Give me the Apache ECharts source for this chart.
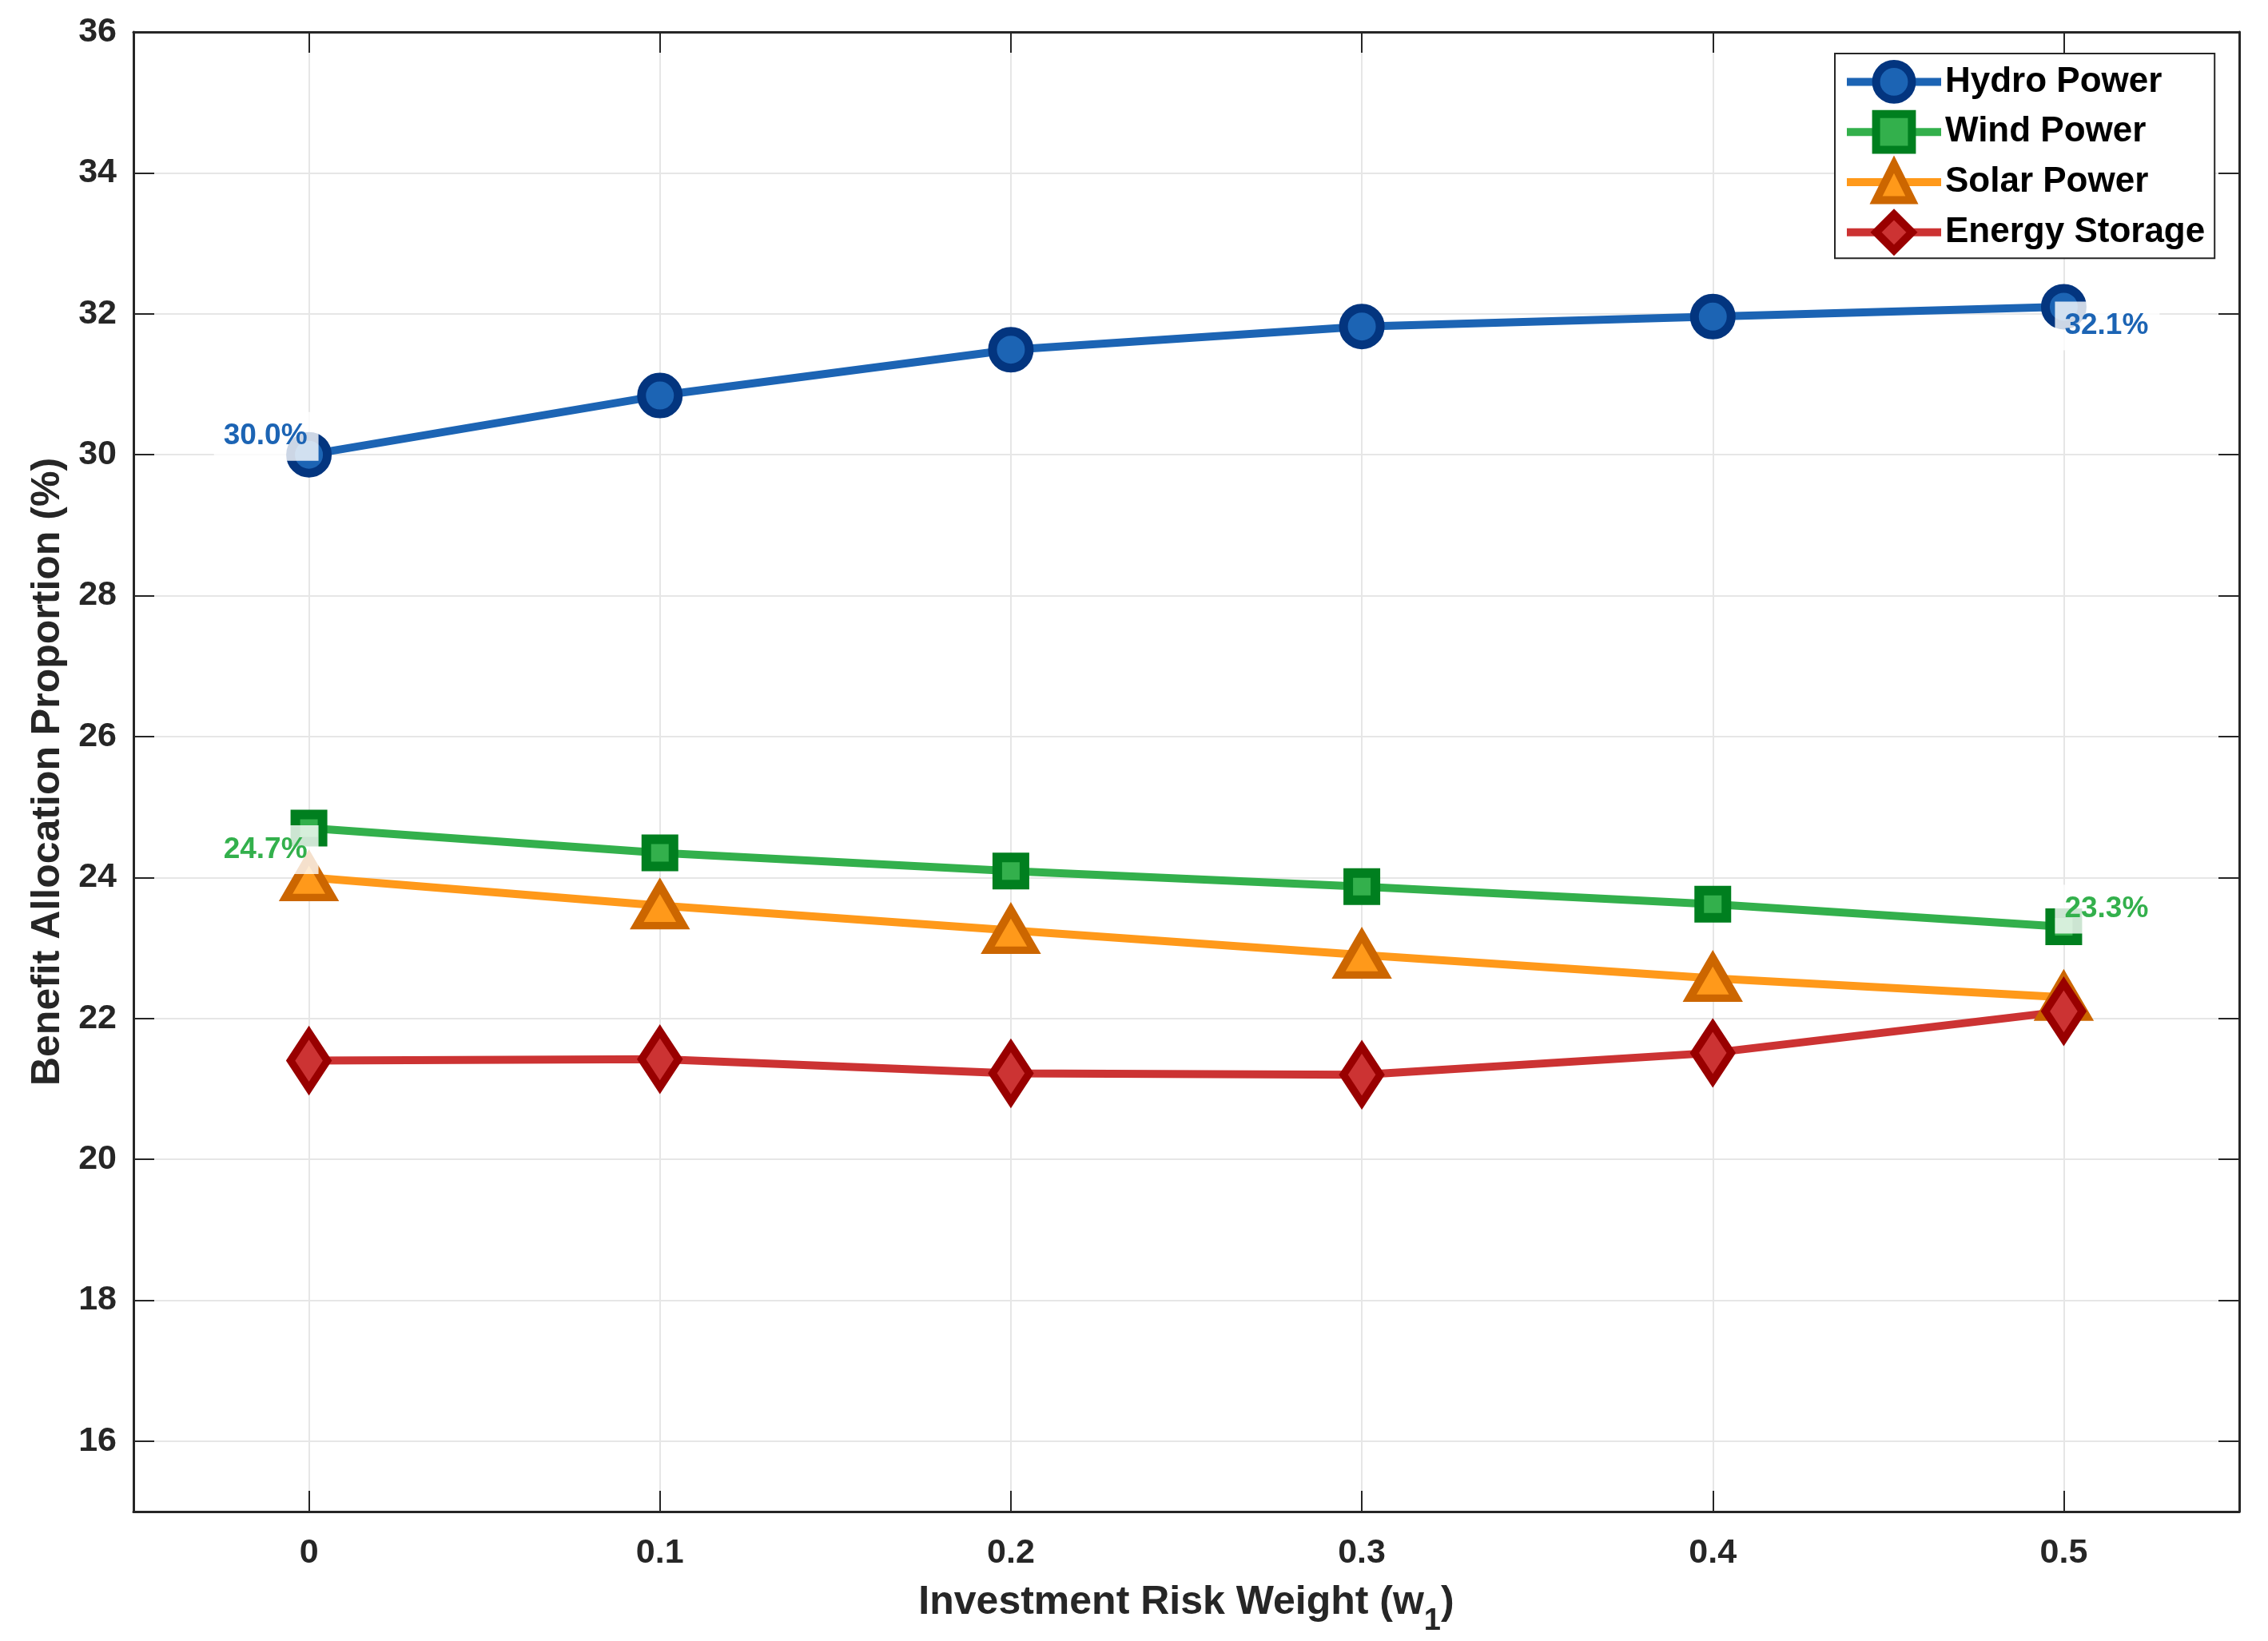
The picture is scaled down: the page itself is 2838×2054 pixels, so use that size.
<!DOCTYPE html>
<html><head><meta charset="utf-8">
<script src="https://cdn.jsdelivr.net/npm/echarts@6/dist/echarts.min.js"></script>
<style>html,body{margin:0;padding:0;background:#fff}#c{width:2838px;height:2054px}</style>
</head><body><div id="c"></div>
<script>
const riskWeights = [0, 0.1, 0.2, 0.3, 0.4, 0.5];
const hydro = [30.0, 30.84, 31.49, 31.82, 31.96, 32.1];
const wind = [24.7, 24.35, 24.09, 23.87, 23.62, 23.3];
const solar = [24.0, 23.6, 23.25, 22.9, 22.57, 22.3];
const storage = [21.4, 21.42, 21.22, 21.2, 21.51, 22.1];
const xTicks = [0, 0.1, 0.2, 0.3, 0.4, 0.5];
const yTicks = [16, 18, 20, 22, 24, 26, 28, 30, 32, 34, 36];
const seriesNames = ['Hydro Power', 'Wind Power', 'Solar Power', 'Energy Storage'];

const FONT = 'Arial, "Liberation Sans", Helvetica, sans-serif';
const AX = '#262626';

function labelCfg(text, color, side, dy) {
  return {
    show: true, formatter: text, position: 'inside',
    align: side, verticalAlign: 'middle',
    offset: [side === 'right' ? 12 : -11, dy],
    color: color, fontFamily: FONT, fontWeight: 'bold', fontSize: 37,
    backgroundColor: 'rgba(255,255,255,0.8)', padding: [12, 14, 12, 12]
  };
}
function build(values, labels) {
  return riskWeights.map((x, i) => labels[i] ? { value: [x, values[i]], label: labels[i] } : [x, values[i]]);
}

const hydroLabels = {0: labelCfg(hydro[0].toFixed(1) + '%', '#1c64b4', 'right', -23), 5: labelCfg(hydro[5].toFixed(1) + '%', '#1c64b4', 'left', 24)};
const windLabels = {0: labelCfg(wind[0].toFixed(1) + '%', '#33b04c', 'right', 27), 5: labelCfg(wind[5].toFixed(1) + '%', '#33b04c', 'left', -22)};

function lineSeries(name, values, labels, symbol, size, lineColor, edge, bw) {
  return {
    name, type: 'line', data: build(values, labels || {}),
    xAxisIndex: 0, yAxisIndex: 0,
    symbol, symbolSize: size, showAllSymbol: true,
    lineStyle: { width: 10, color: lineColor },
    itemStyle: { color: lineColor, borderColor: edge, borderWidth: bw },
    emphasis: { disabled: true },
    label: { show: false }
  };
}

const axisTxt = { fontFamily: FONT, fontWeight: 'bold', fontSize: 43, color: AX };

const option = {
  animation: false,
  backgroundColor: '#fff',
  grid: { left: 167, top: 40, right: 36, bottom: 162, containLabel: false },
  legend: {
    orient: 'vertical', left: 2296, top: 67,
    data: seriesNames,
    itemWidth: 118, itemHeight: 56, itemGap: 8,
    padding: [8, 12, 5, 10],
    backgroundColor: '#fff', borderColor: AX, borderWidth: 2, borderRadius: 0,
    selectedMode: false,
    lineStyle: { width: 10 },
    itemStyle: { borderWidth: 10 },
    textStyle: { fontFamily: FONT, fontWeight: 'bold', fontSize: 44, color: '#000' }
  },
  xAxis: [{
    type: 'value', min: -0.05, max: 0.55, position: 'bottom',
    axisLine: { show: true, onZero: false, lineStyle: { color: AX, width: 3 } },
    axisTick: { show: true, inside: true, length: 26, customValues: xTicks, lineStyle: { color: AX, width: 2 } },
    axisLabel: Object.assign({ customValues: xTicks, margin: 31, formatter: v => String(+(+v).toFixed(1)) }, axisTxt),
    splitLine: { show: true, lineStyle: { color: '#e6e6e6', width: 2 } },
    name: '{m|Investment Risk Weight (w}{s|1}{m|)}', nameLocation: 'middle', nameGap: 89,
    nameTextStyle: {
      color: AX,
      rich: {
        m: { fontFamily: FONT, fontWeight: 'bold', fontSize: 50, lineHeight: 58, verticalAlign: 'top', color: AX },
        s: { fontFamily: FONT, fontWeight: 'bold', fontSize: 38, lineHeight: 38, verticalAlign: 'top', padding: [30, 0, 0, 0], color: AX }
      }
    }
  }, {
    type: 'value', min: -0.05, max: 0.55, position: 'top',
    axisLine: { show: true, onZero: false, lineStyle: { color: AX, width: 3 } },
    axisTick: { show: true, inside: true, length: 26, customValues: xTicks, lineStyle: { color: AX, width: 2 } },
    axisLabel: { show: false, customValues: xTicks },
    splitLine: { show: false }
  }],
  yAxis: [{
    type: 'value', min: 15, max: 36, position: 'left',
    axisLine: { show: true, onZero: false, lineStyle: { color: AX, width: 3 } },
    axisTick: { show: true, inside: true, length: 26, customValues: yTicks, lineStyle: { color: AX, width: 2 } },
    axisLabel: Object.assign({ customValues: yTicks, margin: 21 }, axisTxt),
    splitLine: { show: true, lineStyle: { color: '#e6e6e6', width: 2 } },
    name: 'Benefit Allocation Proportion (%)', nameLocation: 'middle', nameGap: 82, nameRotate: 90,
    nameTextStyle: { fontFamily: FONT, fontWeight: 'bold', fontSize: 50, color: AX }
  }, {
    type: 'value', min: 15, max: 36, position: 'right',
    axisLine: { show: true, onZero: false, lineStyle: { color: AX, width: 3 } },
    axisTick: { show: true, inside: true, length: 26, customValues: yTicks, lineStyle: { color: AX, width: 2 } },
    axisLabel: { show: false, customValues: yTicks },
    splitLine: { show: false }
  }],
  series: [
    lineSeries(seriesNames[0], hydro, hydroLabels, 'circle', 46, '#1c64b4', '#03357f', 11),
    lineSeries(seriesNames[1], wind, windLabels, 'rect', 34, '#33b04c', '#007f1f', 12),
    lineSeries(seriesNames[2], solar, null, 'triangle', [58, 50], '#ff991a', '#cc6600', 10),
    lineSeries(seriesNames[3], storage, null, 'diamond', [46, 70], '#cc3333', '#990000', 10)
  ]
};
const chart = echarts.init(document.getElementById('c'), null, { renderer: 'canvas' });
chart.setOption(option);
</script></body></html>
